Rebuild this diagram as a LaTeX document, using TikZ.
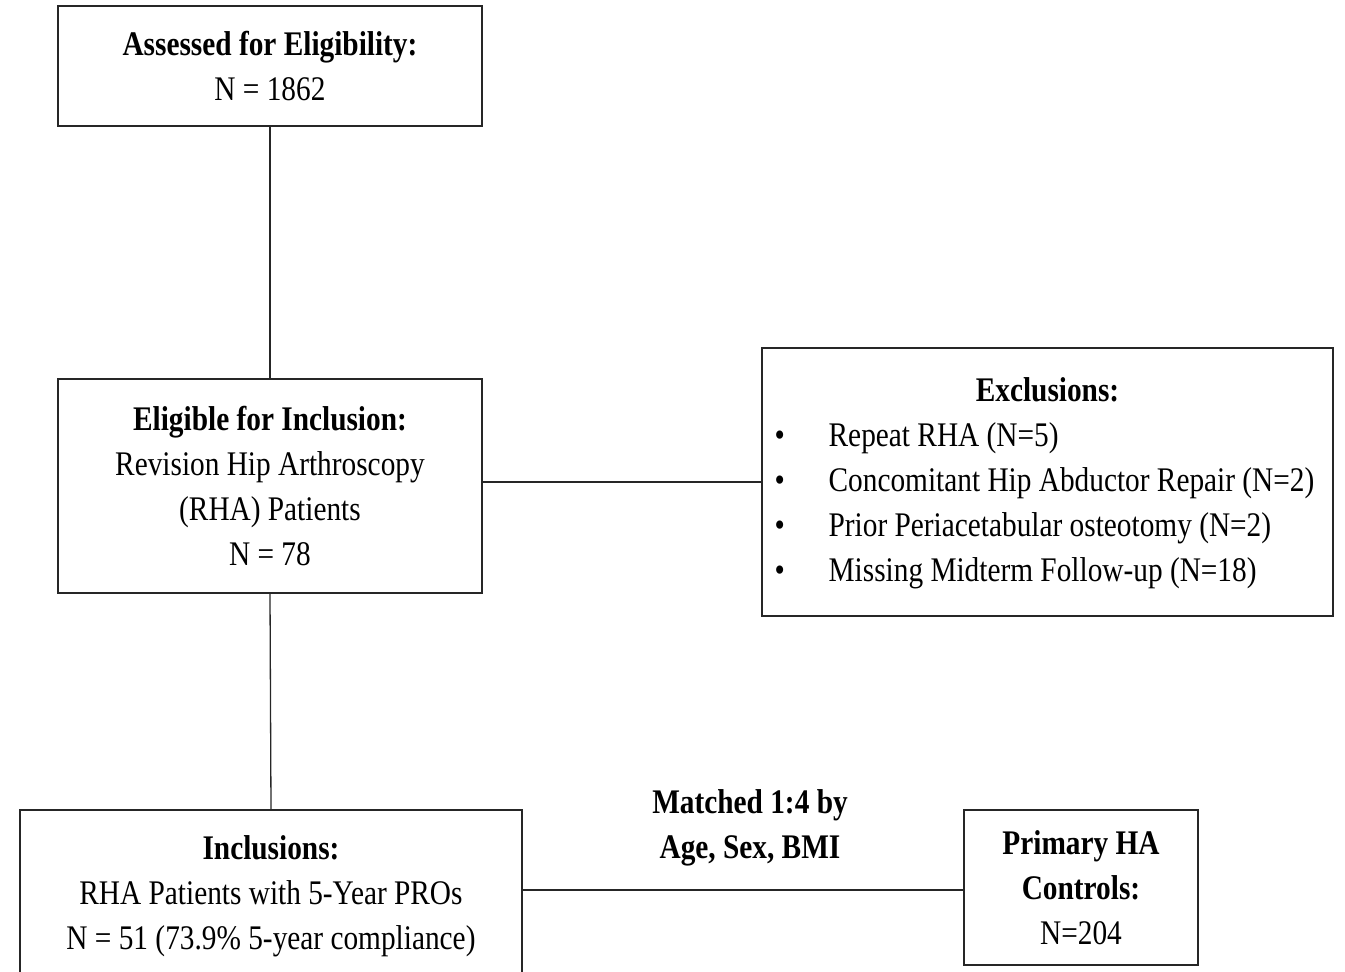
\documentclass[tikz,border=0pt]{standalone}
\usepackage{fontspec}
\setmainfont{Liberation Serif}[FakeStretch=0.85]
\usetikzlibrary{positioning}

\begin{document}
\begin{tikzpicture}[x=1pt,y=-1pt,line cap=butt,
    font=\fontsize{34.5}{45}\selectfont,
    box/.style={draw=black!85,line width=1.3pt,align=center,inner sep=0pt},
    link/.style={draw=black!85,line width=1.3pt}]
  \useasboundingbox (0,0) rectangle (1345,972);
  \clip (0,0) rectangle (1345,972);

  % boxes of the flow
  \node[box,minimum width=424pt,minimum height=120pt] (assessed) at (270,66)
    {\textbf{Assessed for Eligibility:}\\N = 1862};
  \node[box,minimum width=424pt,minimum height=214pt] (eligible) at (270,486)
    {\textbf{Eligible for Inclusion:}\\Revision Hip Arthroscopy\\(RHA) Patients\\N = 78};
  \node[box,minimum width=571pt,minimum height=268pt] (excl) at (1047.5,482)
    {\begin{tabular}{@{}p{48pt}@{}l@{}}
       \multicolumn{2}{c}{\textbf{Exclusions:}}\\
       \hspace*{-6pt}\textbullet & Repeat RHA (N=5)\\
       \hspace*{-6pt}\textbullet & Concomitant Hip Abductor Repair (N=2)\\
       \hspace*{-6pt}\textbullet & Prior Periacetabular osteotomy (N=2)\\
       \hspace*{-6pt}\textbullet & Missing Midterm Follow-up (N=18)
     \end{tabular}};
  \node[box,minimum width=502pt,minimum height=172pt] (incl) at (271,896)
    {\textbf{Inclusions:}\\RHA Patients with 5-Year PROs\\N = 51 (73.9\% 5-year compliance)};
  \node[box,minimum width=234pt,minimum height=155pt] (controls) at (1081,887.5)
    {\textbf{Primary HA}\\\textbf{Controls:}\\N=204};

  % connectors
  \draw[link] (assessed) -- (eligible);
  \draw[link] (excl.west) -- (excl.west -| eligible.east);
  \draw[link] (eligible.south) -- (incl.north);
  \draw[link] ([yshift=-2.5pt]controls.west) -- ([yshift=-2.5pt]controls.west -| incl.east);

  % matching label
  \node[align=center,font=\fontsize{34.5}{45}\selectfont\bfseries] (match) at (750,828)
    {Matched 1:4 by\\Age, Sex, BMI};
\end{tikzpicture}
\end{document}
